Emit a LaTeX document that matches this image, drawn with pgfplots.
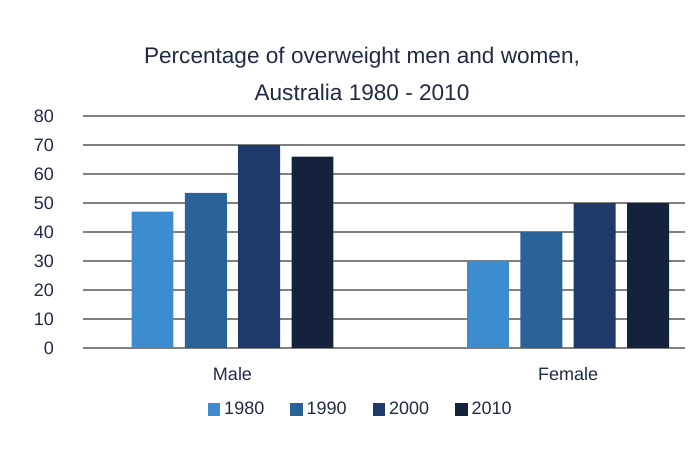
\documentclass[border=0pt]{standalone}
\usepackage{fontspec}
\setmainfont{Liberation Sans}
\usepackage{pgfplots}
\pgfplotsset{compat=1.18}
\definecolor{c1980}{HTML}{3E8CD0}
\definecolor{c1990}{HTML}{2B6298}
\definecolor{c2000}{HTML}{1D3A6A}
\definecolor{c2010}{HTML}{14223D}
\definecolor{txt}{HTML}{1F2B45}
\definecolor{gridc}{HTML}{808080}

\begin{document}
\begin{tikzpicture}
\begin{axis}[
  at={(41.5pt,60.5pt)}, anchor=south west,
  scale only axis,
  width=301pt, height=116pt,
  xmin=-0.4456, xmax=1.3487,
  ymin=0, ymax=80,
  xtick={0,1}, xticklabels={Male,Female},
  ytick={0,10,...,80},
  ymajorgrids,
  grid style={gridc, line width=0.6pt},
  axis line style={draw=none},
  major tick length=0pt,
  ticklabel style={font=\fontsize{9}{10}\selectfont, text=txt},
  yticklabel style={xshift=-11pt},
  xticklabel style={yshift=-6pt},
  /pgf/number format/assume math mode=true,
  ybar, bar width=0.125,
  legend columns=4,
  legend style={at={(0.463,-0.265)}, anchor=center, draw=none,
    font=\fontsize{9}{10}\selectfont, text=txt,
    /tikz/every even column/.append style={column sep=11pt}},
  legend image code/.code={\fill[#1] (0pt,-3.1pt) rectangle (6.2pt,3.1pt);},
]
\addplot[fill=c1980, draw=none, bar shift=-0.2385] coordinates {(0,47) (1,30)};
\addplot[fill=c1990, draw=none, bar shift=-0.0795] coordinates {(0,53.5) (1,40)};
\addplot[fill=c2000, draw=none, bar shift=0.0795] coordinates {(0,70) (1,50)};
\addplot[fill=c2010, draw=none, bar shift=0.2385] coordinates {(0,66) (1,50)};
\legend{1980,1990,2000,2010}
\end{axis}
\node[align=center, font=\fontsize{11.3}{18.5}\selectfont, text=txt]
  at (181pt,197.75pt) {Percentage of overweight men and women,\\Australia 1980 - 2010};
\pgfresetboundingbox
\useasboundingbox (0,0) rectangle (350pt,234.5pt);
\end{tikzpicture}
\end{document}
